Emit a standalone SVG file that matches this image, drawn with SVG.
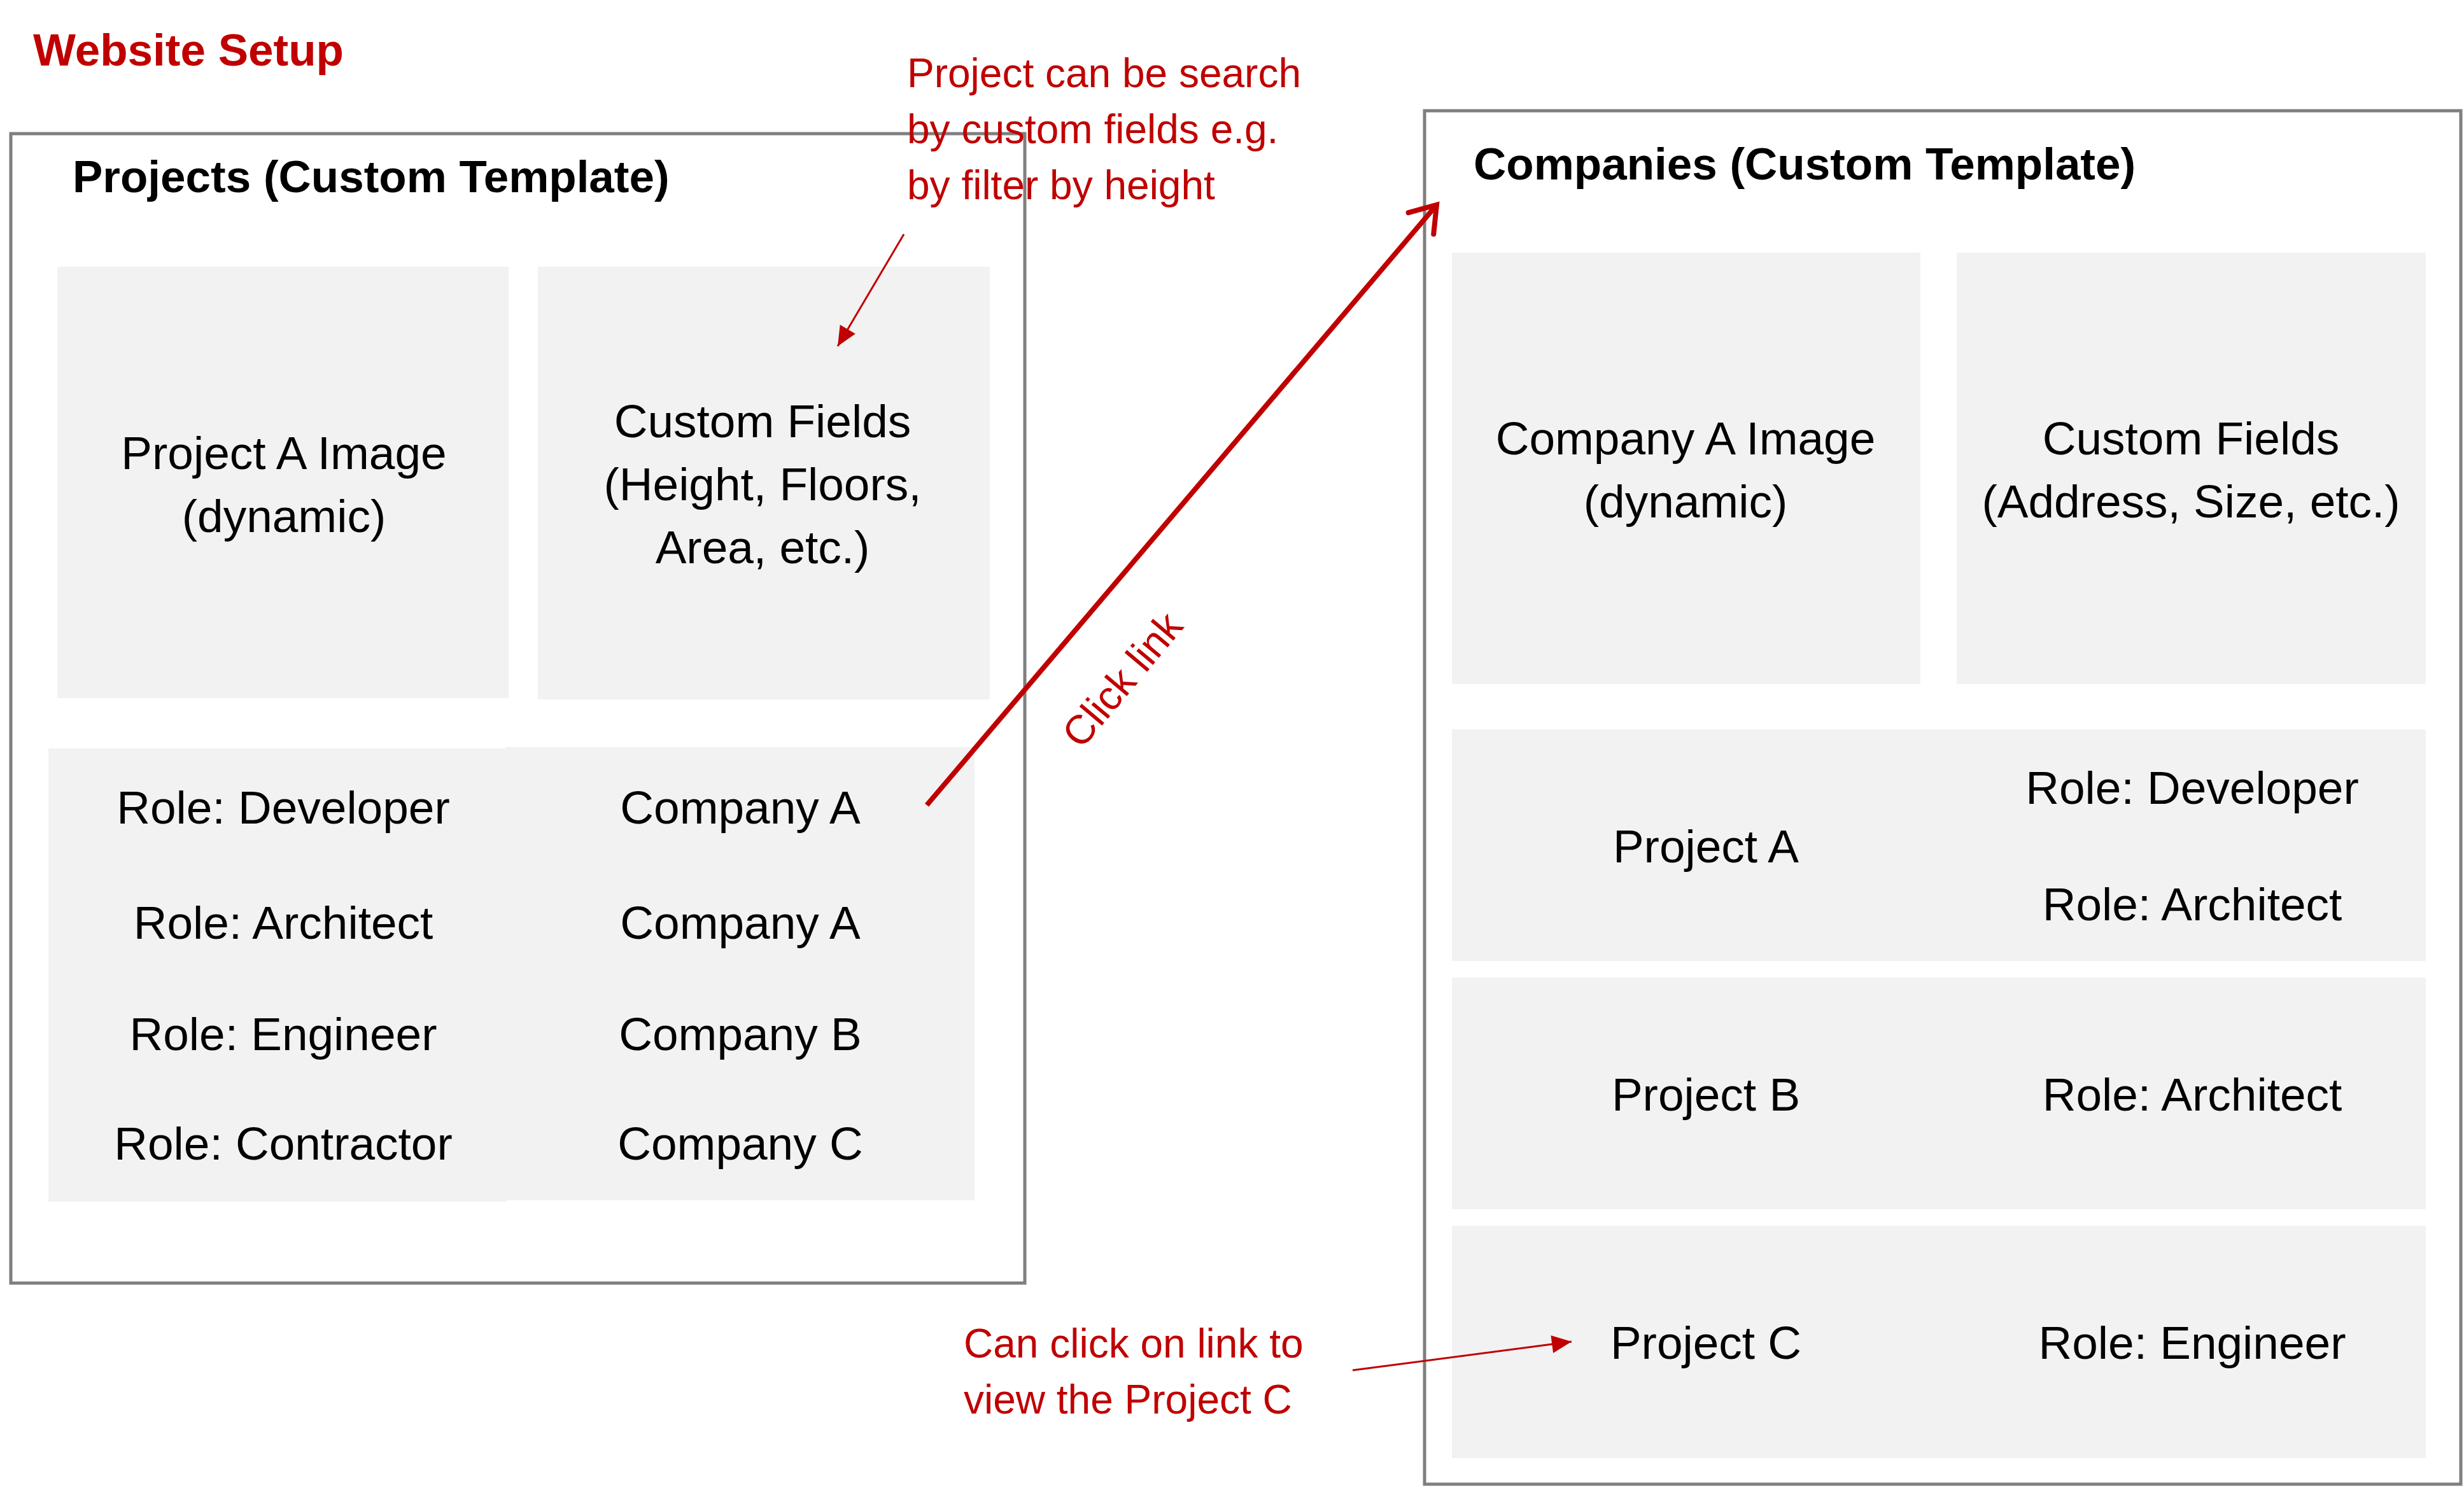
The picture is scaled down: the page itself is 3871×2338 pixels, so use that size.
<svg xmlns="http://www.w3.org/2000/svg" width="3871" height="2338" viewBox="0 0 3871 2338">
<defs>
<style>
.frame{fill:#FFFFFF;stroke:#7F7F7F;stroke-width:5}
.cell{fill:#F2F2F2}
.t{font-family:"Liberation Sans",Arial,sans-serif;font-size:73px;fill:#000000;text-anchor:middle}
.h{font-family:"Liberation Sans",Arial,sans-serif;font-size:71px;font-weight:bold;fill:#000000}
.note{font-family:"Liberation Sans",Arial,sans-serif;font-size:64px;fill:#C00000}
.thin{stroke:#C00000;stroke-width:3;fill:none}
.thick{stroke:#C00000;stroke-width:8;fill:none}
</style>
<marker id="tri" markerUnits="userSpaceOnUse" viewBox="-34 -16 36 32" refX="0" refY="0" markerWidth="36" markerHeight="32" orient="auto">
<path d="M0,0 L-31,-14 L-31,14 Z" fill="#C00000"/>
</marker>
<marker id="open" markerUnits="userSpaceOnUse" viewBox="-50 -35 60 70" refX="0" refY="0" markerWidth="60" markerHeight="70" orient="auto">
<path d="M-38,-26 L0,0 L-38,26" fill="none" stroke="#C00000" stroke-width="8" stroke-linecap="round" stroke-linejoin="miter"/>
</marker>
</defs>
<rect x="0" y="0" width="3871" height="2338" fill="#FFFFFF"/>

<g id="title">
<text x="52" y="103" style="font-family:'Liberation Sans',Arial,sans-serif;font-size:71px;font-weight:bold;fill:#C00000">Website Setup</text>
</g>

<g id="projects">
<rect class="frame" x="17" y="210" width="1593" height="1806"/>
<text class="h" x="114" y="302">Projects (Custom Template)</text>
</g>
<g id="project-image">
<rect class="cell" x="90" y="419" width="709" height="678"/>
<text class="t" x="446" y="737">Project A Image</text>
<text class="t" x="446" y="836">(dynamic)</text>
</g>
<g id="project-fields">
<rect class="cell" x="845" y="419" width="710" height="680"/>
<text class="t" x="1198" y="687">Custom Fields</text>
<text class="t" x="1198" y="786">(Height, Floors,</text>
<text class="t" x="1198" y="885">Area, etc.)</text>
</g>
<g id="project-roles">
<rect class="cell" x="76" y="1176" width="720" height="712"/>
<rect class="cell" x="794" y="1174" width="737" height="712"/>
<text class="t" x="445" y="1294">Role: Developer</text>
<text class="t" x="445" y="1475">Role: Architect</text>
<text class="t" x="445" y="1650">Role: Engineer</text>
<text class="t" x="445" y="1822">Role: Contractor</text>
<text class="t" x="1163" y="1294">Company A</text>
<text class="t" x="1163" y="1475">Company A</text>
<text class="t" x="1163" y="1650">Company B</text>
<text class="t" x="1163" y="1822">Company C</text>
</g>

<g id="companies">
<rect class="frame" x="2238" y="174" width="1628" height="2158"/>
<text class="h" x="2315" y="282">Companies (Custom Template)</text>
</g>
<g id="company-image">
<rect class="cell" x="2281" y="397" width="736" height="678"/>
<text class="t" x="2648" y="714">Company A Image</text>
<text class="t" x="2648" y="813">(dynamic)</text>
</g>
<g id="company-fields">
<rect class="cell" x="3074" y="397" width="737" height="678"/>
<text class="t" x="3442" y="714">Custom Fields</text>
<text class="t" x="3442" y="813">(Address, Size, etc.)</text>
</g>
<g id="company-project-a">
<rect class="cell" x="2281" y="1146" width="1530" height="364"/>
<text class="t" x="2680" y="1355">Project A</text>
<text class="t" x="3444" y="1263">Role: Developer</text>
<text class="t" x="3444" y="1446">Role: Architect</text>
</g>
<g id="company-project-b">
<rect class="cell" x="2281" y="1536" width="1530" height="364"/>
<text class="t" x="2680" y="1745">Project B</text>
<text class="t" x="3444" y="1745">Role: Architect</text>
</g>
<g id="company-project-c">
<rect class="cell" x="2281" y="1926" width="1530" height="365"/>
<text class="t" x="2680" y="2135">Project C</text>
<text class="t" x="3444" y="2135">Role: Engineer</text>
</g>

<g id="notes">
<text class="note" x="1425" y="137">Project can be search</text>
<text class="note" x="1425" y="225">by custom fields e.g.</text>
<text class="note" x="1425" y="313">by filter by height</text>
<text class="note" x="1514" y="2133">Can click on link to</text>
<text class="note" x="1514" y="2221">view the Project C</text>
<text class="note" text-anchor="middle" transform="translate(1780,1082) rotate(-50)">Click link</text>
</g>

<g id="connectors">
<line class="thin" x1="1420" y1="368" x2="1316" y2="544" marker-end="url(#tri)"/>
<line class="thick" x1="1456" y1="1265" x2="2257" y2="322" marker-end="url(#open)"/>
<line class="thin" x1="2125" y1="2153" x2="2469" y2="2108" marker-end="url(#tri)"/>
</g>
</svg>
